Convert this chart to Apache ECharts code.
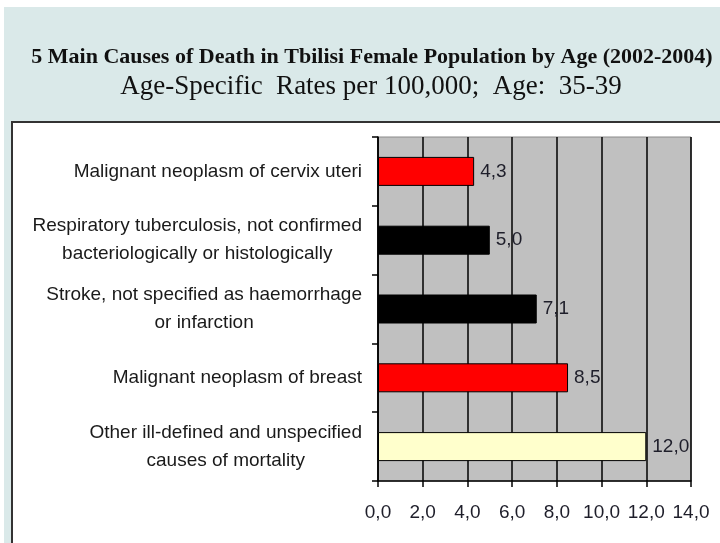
<!DOCTYPE html>
<html>
<head>
<meta charset="utf-8">
<script src="https://cdn.jsdelivr.net/npm/echarts@6/dist/echarts.min.js"></script>
<style>
  html, body { margin: 0; padding: 0; background: #ffffff; width: 720px; height: 543px; overflow: hidden; }
  #bg { position: absolute; left: 4px; top: 7px; width: 716px; height: 536px; background: #dae9e9; }
  #panel { position: absolute; left: 11px; top: 121px; width: 720px; height: 440px; background: #ffffff; border: 2px solid #333333; }
  #chart { position: absolute; left: 0; top: 0; width: 720px; height: 543px; }
</style>
</head>
<body>
<div id="bg"></div>
<div id="panel"></div>
<div id="chart"></div>
<script>
const titleText = '5 Main Causes of Death in Tbilisi Female Population by Age (2002-2004)';
const subtitleText = 'Age-Specific  Rates per 100,000;  Age:  35-39';
const categories = [
  'Malignant neoplasm of cervix uteri',
  'Respiratory tuberculosis, not confirmed\nbacteriologically or histologically',
  'Stroke, not specified as haemorrhage\nor infarction',
  'Malignant neoplasm of breast',
  'Other ill-defined and unspecified\ncauses of mortality'
];
const rates = [4.3, 5.0, 7.1, 8.5, 12.0];
const barColors = ['#ff0000', '#000000', '#000000', '#ff0000', '#ffffcc'];
const xMin = 0, xMax = 14, xStep = 2;

const fmt = v => Number(v).toFixed(1).replace('.', ',');

const chart = echarts.init(document.getElementById('chart'), null, { renderer: 'canvas' });
chart.setOption({
  backgroundColor: 'transparent',
  animation: false,
  title: [
    {
      text: titleText, left: 367, top: 41, textAlign: 'center',
      textStyle: { fontFamily: 'Liberation Serif', fontWeight: 'bold', fontSize: 22, color: '#111111' }
    },
    {
      text: subtitleText, left: 366, top: 68, textAlign: 'center',
      textStyle: { fontFamily: 'Liberation Serif', fontWeight: 'normal', fontSize: 27, color: '#111111' }
    }
  ],
  grid: {
    left: 378, right: 29, top: 137, bottom: 62,
    show: true, backgroundColor: '#c0c0c0', borderColor: '#8a8a8a', borderWidth: 1
  },
  xAxis: {
    type: 'value', min: xMin, max: xMax, interval: xStep,
    axisLine: { show: true, lineStyle: { color: '#000', width: 1.5 } },
    axisTick: { show: true, length: 6, lineStyle: { color: '#000', width: 1.5 } },
    splitLine: { show: true, lineStyle: { color: '#000', width: 1.5 } },
    axisLabel: {
      margin: 22, formatter: fmt,
      fontFamily: 'Liberation Sans', fontSize: 19, color: '#1e1e2a'
    }
  },
  yAxis: {
    type: 'category', data: categories, inverse: true,
    axisLine: { show: true, lineStyle: { color: '#000', width: 1.5 } },
    axisTick: { show: true, length: 6, lineStyle: { color: '#000', width: 1.5 } },
    axisLabel: {
      margin: 16,
      formatter: v => v.split('\n').map(l => '{c|' + l + '}').join('\n'),
      rich: {
        c: { align: 'center', fontFamily: 'Liberation Sans', fontSize: 19, lineHeight: 28, color: '#1a1a1a' }
      }
    }
  },
  series: [{
    type: 'bar',
    barWidth: 29,
    data: rates.map((v, i) => ({ value: v, itemStyle: { color: barColors[i] } })),
    itemStyle: { borderColor: '#000', borderWidth: 1 },
    label: {
      show: true, position: 'right', distance: 6,
      formatter: p => fmt(p.value),
      fontFamily: 'Liberation Sans', fontSize: 19, color: '#1e1e2a'
    }
  }]
});
</script>
</body>
</html>
